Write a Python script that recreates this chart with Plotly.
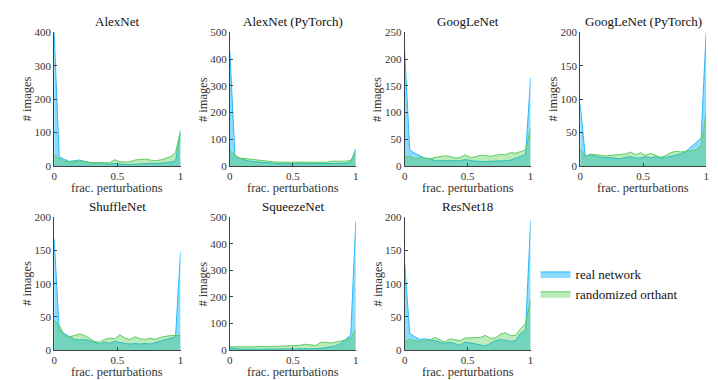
import plotly.graph_objects as go
from plotly.subplots import make_subplots

# fraction of perturbations (histogram bin positions)
frac = [i * 0.04 for i in range(26)]

titles = ["AlexNet", "AlexNet (PyTorch)", "GoogLeNet", "GoogLeNet (PyTorch)",
          "ShuffleNet", "SqueezeNet", "ResNet18"]

alexnet_real = [400, 28, 20, 14, 16, 18, 14, 10, 9, 10, 7, 6, 8, 6, 5, 5,
                5, 6, 7, 8, 7, 8, 10, 12, 14, 100]
alexnet_rand = [31, 22, 15, 12, 14, 15, 13, 11, 10, 10, 9, 10, 19, 13, 12, 13,
                18, 20, 21, 18, 16, 18, 22, 28, 40, 108]

alexnet_pt_real = [430, 40, 28, 22, 18, 16, 14, 12, 11, 10, 9, 9, 8, 8, 8, 8,
                   8, 8, 8, 8, 8, 9, 9, 10, 15, 65]
alexnet_pt_rand = [58, 40, 30, 28, 25, 22, 20, 18, 16, 15, 15, 14, 14, 15, 15,
                   14, 14, 13, 13, 14, 18, 18, 17, 18, 22, 50]

googlenet_real = [215, 30, 24, 20, 15, 14, 10, 10, 10, 9, 9, 10, 12, 10, 9, 9,
                  8, 9, 9, 10, 10, 11, 14, 18, 22, 165]
googlenet_rand = [17, 18, 14, 16, 15, 13, 16, 18, 19, 18, 15, 16, 21, 16, 17,
                  20, 20, 18, 20, 22, 21, 25, 24, 27, 30, 70]

googlenet_pt_real = [92, 15, 17, 15, 13, 13, 12, 12, 11, 13, 14, 12, 12, 14, 12,
                     14, 12, 13, 15, 17, 18, 22, 28, 35, 42, 200]
googlenet_pt_rand = [25, 14, 18, 17, 16, 15, 16, 17, 18, 18, 21, 17, 20, 16, 19,
                     16, 13, 16, 20, 22, 21, 22, 23, 24, 30, 78]

shufflenet_real = [168, 30, 25, 20, 16, 15, 16, 14, 12, 9, 12, 10, 13, 11, 10,
                   9, 10, 9, 10, 9, 11, 14, 16, 18, 20, 148]
shufflenet_rand = [45, 38, 22, 20, 22, 24, 22, 18, 13, 12, 16, 18, 17, 23, 18,
                   16, 20, 17, 16, 18, 16, 19, 21, 22, 22, 22]

squeezenet_real = [8, 5, 4, 3, 3, 3, 3, 3, 3, 3, 3, 3, 3, 3, 3, 3, 4, 5, 6, 8,
                   12, 16, 25, 40, 58, 485]
squeezenet_rand = [12, 12, 12, 11, 10, 12, 14, 12, 13, 14, 15, 14, 16, 18, 18,
                   22, 20, 17, 28, 30, 26, 30, 34, 38, 45, 78]

resnet18_real = [132, 25, 20, 16, 17, 16, 14, 12, 10, 12, 9, 7, 12, 11, 10, 8,
                 6, 10, 14, 16, 14, 13, 14, 25, 30, 195]
resnet18_rand = [12, 16, 14, 13, 14, 15, 19, 15, 12, 17, 16, 14, 18, 18, 18, 19,
                 22, 18, 18, 24, 26, 22, 22, 32, 40, 76]

real_series = [alexnet_real, alexnet_pt_real, googlenet_real, googlenet_pt_real,
               shufflenet_real, squeezenet_real, resnet18_real]
rand_series = [alexnet_rand, alexnet_pt_rand, googlenet_rand, googlenet_pt_rand,
               shufflenet_rand, squeezenet_rand, resnet18_rand]
y_max = [400, 500, 250, 200, 200, 500, 200]
y_step = [100, 100, 50, 50, 50, 100, 50]

FONT = "Liberation Serif, serif"
AXIS_COLOR = "#404040"

# pixel positions (718x380 canvas) of each plot box
col_px = [(43.5, 171), (220.7, 347.7), (397, 524), (574, 701)]
row_px = [(19, 157), (210, 347)]
W, H = 718, 380

fig = make_subplots(rows=2, cols=4)

for k, name in enumerate(titles):
    r, c = k // 4 + 1, k % 4 + 1
    fig.add_trace(go.Scatter(x=frac, y=real_series[k], mode="lines",
                             fill="tozeroy", name="real network",
                             line=dict(color="rgb(40,185,250)", width=1),
                             fillcolor="rgba(0,175,255,0.45)",
                             showlegend=(k == 0), legendgroup="real"),
                  row=r, col=c)
    fig.add_trace(go.Scatter(x=frac, y=rand_series[k], mode="lines",
                             fill="tozeroy", name="randomized orthant",
                             line=dict(color="rgb(95,205,95)", width=1),
                             fillcolor="rgba(70,200,70,0.36)",
                             showlegend=(k == 0), legendgroup="rand"),
                  row=r, col=c)

    x0, x1 = col_px[c - 1]
    y0, y1 = row_px[r - 1]
    fig.update_xaxes(domain=[x0 / W, x1 / W], range=[0, 1],
                     tickvals=[0, 0.5, 1], ticktext=["0", "0.5", "1"],
                     showgrid=False, zeroline=False, showline=True,
                     linecolor=AXIS_COLOR, linewidth=1, ticks="inside",
                     ticklen=3, tickcolor=AXIS_COLOR,
                     tickfont=dict(family=FONT, size=11, color="#333"),
                     row=r, col=c)
    fig.update_yaxes(domain=[1 - y1 / H, 1 - y0 / H], range=[0, y_max[k]],
                     dtick=y_step[k], tick0=0,
                     showgrid=False, zeroline=False, showline=True,
                     linecolor=AXIS_COLOR, linewidth=1, ticks="inside",
                     ticklen=3, tickcolor=AXIS_COLOR,
                     tickfont=dict(family=FONT, size=11, color="#333"),
                     row=r, col=c)

    xd = "x domain" if k == 0 else f"x{k + 1} domain"
    yd = "y domain" if k == 0 else f"y{k + 1} domain"
    fig.add_annotation(text=name, xref=xd, yref=yd, x=0.5, y=1,
                       yshift=1, xanchor="center", yanchor="bottom",
                       showarrow=False,
                       font=dict(family=FONT, size=13, color="#111"))
    fig.add_annotation(text="frac. perturbations", xref=xd, yref=yd, x=0.5,
                       y=0, yshift=-22, xanchor="center", yanchor="middle",
                       showarrow=False, borderpad=0,
                       font=dict(family=FONT, size=12.5, color="#333"))
    fig.add_annotation(text="# images", xref=xd, yref=yd, x=0, y=0.5,
                       xshift=-27, textangle=-90, xanchor="center",
                       yanchor="middle", showarrow=False,
                       font=dict(family=FONT, size=12.5, color="#333"))

fig.update_layout(
    width=W, height=H,
    margin=dict(l=0, r=0, t=0, b=0),
    paper_bgcolor="white", plot_bgcolor="white",
    font=dict(family=FONT, size=12, color="#222"),
    legend=dict(x=529 / W, y=1 - 253 / H, xanchor="left", yanchor="top",
                bgcolor="rgba(0,0,0,0)", tracegroupgap=0,
                font=dict(family=FONT, size=13, color="#111"),
                itemwidth=30),
)

fig.write_html("out.html")
